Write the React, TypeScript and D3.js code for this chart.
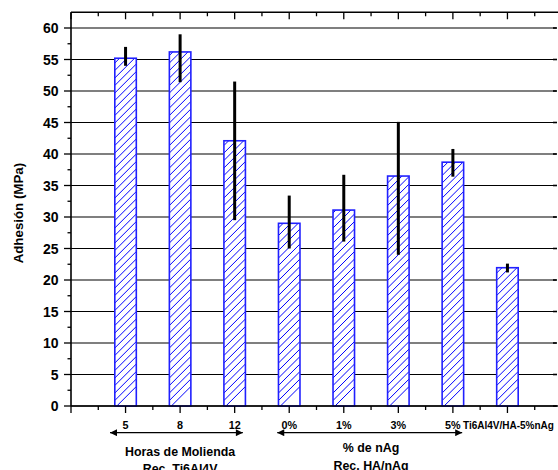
import React from "react";
import * as d3 from "d3";

const categories = ["5", "8", "12", "0%", "1%", "3%", "5%", "Ti6Al4V/HA-5%nAg"];
const values = [55.2, 56.2, 42.1, 29.0, 31.1, 36.5, 38.7, 21.95];
const errLow = [54.0, 51.4, 29.5, 25.0, 26.1, 24.0, 36.4, 21.2];
const errHigh = [57.0, 59.0, 51.5, 33.4, 36.7, 45.1, 40.8, 22.6];
const yTicks = [0, 5, 10, 15, 20, 25, 30, 35, 40, 45, 50, 55, 60];
const groupArrows = [
  { from: 0.715, to: 3.15, center: 2, line1: "Horas de Molienda", line2: "Rec. Ti6Al4V" },
  { from: 3.78, to: 7.17, center: 5.5, line1: "% de nAg", line2: "Rec. HA/nAg" },
];

const W = 558;
const H = 470;
const FONT = "'Liberation Sans', Arial, Helvetica, sans-serif";

export default function App() {
  const left = 71;
  const right = 556;
  const x = d3.scaleLinear().domain([0, 9]).range([left, 562]);
  const y = d3.scaleLinear().domain([0, 62.5]).range([406, 12.25]);
  const barW = 21.5;
  const xMajor = d3.range(0, 10);
  const xMinor = d3.range(0.5, 9, 1);
  const yMinor = d3.range(2.5, 62.5, 5);
  const top = y(62.5);
  const bottom = y(0);
  const hatchStep = 7.5;

  return (
    <svg
      width={W}
      height={H}
      style={{ position: "absolute", left: 0, top: 0, background: "#fff" }}
      fontFamily={FONT}
    >
      <defs>
        {values.map((v, i) => (
          <clipPath id={"clip" + i} key={"c" + i}>
            <rect x={x(i + 1) - barW / 2} y={y(v)} width={barW} height={y(0) - y(v)} />
          </clipPath>
        ))}
        <marker id="ah" viewBox="0 0 10 10" refX="10" refY="5" markerWidth="9" markerHeight="7" markerUnits="userSpaceOnUse" orient="auto-start-reverse">
          <path d="M0,0 L10,5 L0,10 z" fill="#000" />
        </marker>
      </defs>

      {/* gridlines */}
      {yTicks.map((t) => (
        <line key={"g" + t} x1={left} x2={right} y1={y(t)} y2={y(t)} stroke="#000" strokeWidth={1.1} />
      ))}

      {/* bars */}
      {values.map((v, i) => {
        const x0 = x(i + 1) - barW / 2;
        const y0 = y(v);
        const y1 = y(0);
        const n = Math.ceil((y1 - y0 + barW) / hatchStep) + 1;
        return (
          <g key={"b" + i}>
            <rect x={x0} y={y0} width={barW} height={y1 - y0} fill="#fff" />
            <g clipPath={`url(#clip${i})`}>
              {d3.range(n).map((k) => {
                const yb = y1 + 2 - k * hatchStep;
                return (
                  <line
                    key={k}
                    x1={x0}
                    y1={yb}
                    x2={x0 + barW}
                    y2={yb - barW}
                    stroke="#0000ff"
                    strokeWidth={1}
                  />
                );
              })}
            </g>
            <rect x={x0} y={y0} width={barW} height={y1 - y0} fill="none" stroke="#2020ff" strokeWidth={1.6} />
          </g>
        );
      })}

      {/* error bars */}
      {values.map((v, i) => (
        <line
          key={"e" + i}
          x1={x(i + 1)}
          x2={x(i + 1)}
          y1={y(errLow[i])}
          y2={y(errHigh[i])}
          stroke="#000"
          strokeWidth={3}
        />
      ))}

      {/* axes lines */}
      <line x1={left} x2={left} y1={top} y2={bottom} stroke="#000" strokeWidth={1.6} />
      <line x1={left} x2={W} y1={bottom} y2={bottom} stroke="#000" strokeWidth={1.6} />
      <line x1={left} x2={W} y1={top} y2={top} stroke="#000" strokeWidth={1.6} />

      {/* left ticks */}
      {yTicks.map((t) => (
        <line key={"lt" + t} x1={left - 7} x2={left} y1={y(t)} y2={y(t)} stroke="#000" strokeWidth={1.3} />
      ))}
      {yMinor.map((t) => (
        <line key={"lm" + t} x1={left - 3.5} x2={left} y1={y(t)} y2={y(t)} stroke="#000" strokeWidth={1.3} />
      ))}
      {/* right ticks */}
      {yTicks.map((t) => (
        <line key={"rt" + t} x1={right - 3} x2={right + 1} y1={y(t)} y2={y(t)} stroke="#000" strokeWidth={1.6} />
      ))}

      {/* bottom ticks */}
      {xMajor.map((t) => (
        <line key={"bt" + t} x1={x(t)} x2={x(t)} y1={bottom} y2={bottom + 7} stroke="#000" strokeWidth={1.3} />
      ))}
      {xMinor.map((t) => (
        <line key={"bm" + t} x1={x(t)} x2={x(t)} y1={bottom} y2={bottom + 4} stroke="#000" strokeWidth={1.3} />
      ))}
      {/* top ticks */}
      {xMajor.map((t) => (
        <line key={"tt" + t} x1={x(t)} x2={x(t)} y1={top} y2={top + 7} stroke="#000" strokeWidth={1.3} />
      ))}
      {xMinor.map((t) => (
        <line key={"tm" + t} x1={x(t)} x2={x(t)} y1={top} y2={top + 4} stroke="#000" strokeWidth={1.3} />
      ))}

      {/* y tick labels */}
      {yTicks.map((t) => (
        <text key={"yl" + t} x={58.5} y={y(t)} dy="0.36em" textAnchor="end" fontSize={14} fontWeight="bold">
          {t}
        </text>
      ))}

      {/* y axis title */}
      <text
        transform={`translate(23,${(top + bottom) / 2 + 4}) rotate(-90)`}
        textAnchor="middle"
        fontSize={13.3}
        fontWeight="bold"
      >
        Adhesión (MPa)
      </text>

      {/* x tick labels */}
      {categories.map((c, i) => (
        <text
          key={"xl" + i}
          x={x(i + 1) + (i === 7 ? 1 : 0)}
          y={428.5}
          textAnchor="middle"
          fontSize={i === 7 ? 10 : 10.8}
          fontWeight="bold"
        >
          {c}
        </text>
      ))}

      {/* group arrows and labels */}
      {groupArrows.map((g, i) => (
        <g key={"ga" + i}>
          <line
            x1={x(g.from)}
            x2={x(g.to)}
            y1={432.7}
            y2={432.7}
            stroke="#000"
            strokeWidth={1.2}
            markerStart="url(#ah)"
            markerEnd="url(#ah)"
          />
          <text x={x(g.center)} y={i === 0 ? 455.7 : 452.3} textAnchor="middle" fontSize={12.4} fontWeight="bold">
            {g.line1}
          </text>
          <text x={x(g.center)} y={i === 0 ? 472.5 : 469.5} textAnchor="middle" fontSize={12.4} fontWeight="bold">
            {g.line2}
          </text>
        </g>
      ))}
    </svg>
  );
}
